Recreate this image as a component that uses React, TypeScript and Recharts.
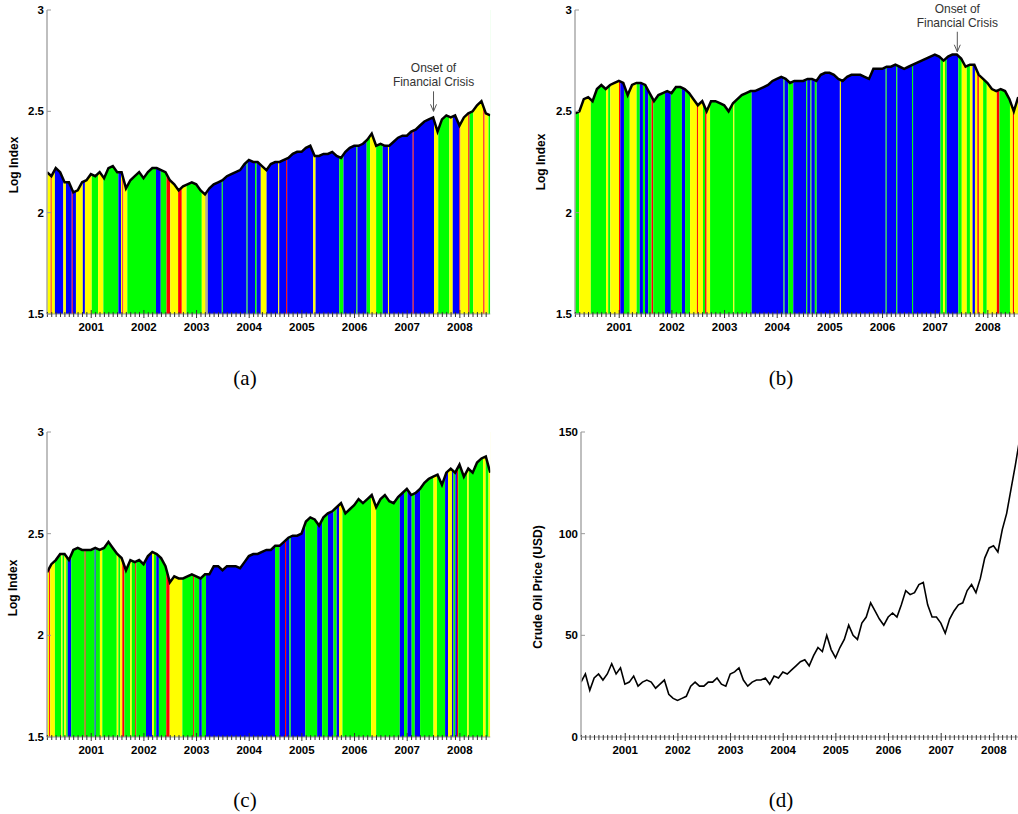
import React from "react";
import {
  ComposedChart,
  Area,
  Line,
  XAxis,
  YAxis,
  ReferenceArea,
  ReferenceDot,
} from "recharts";

// monthly samples, first one in early March 2000
const START = 2000.16;
const TICK_YEARS = [2000, 2001, 2002, 2003, 2004, 2005, 2006, 2007, 2008];
const LOG_TICKS = [1.5, 2, 2.5, 3];
const OIL_TICKS = [0, 50, 100, 150];

const logIndexA = [
  2.20, 2.18, 2.22, 2.20, 2.15, 2.15, 2.10, 2.11, 2.15, 2.16,
  2.19, 2.18, 2.20, 2.17, 2.22, 2.23, 2.20, 2.20, 2.12, 2.16,
  2.18, 2.20, 2.17, 2.20, 2.22, 2.22, 2.21, 2.20, 2.16, 2.14,
  2.11, 2.13, 2.14, 2.15, 2.14, 2.11, 2.09, 2.12, 2.14, 2.15,
  2.16, 2.18, 2.19, 2.20, 2.21, 2.24, 2.26, 2.25, 2.25, 2.23,
  2.21, 2.24, 2.25, 2.25, 2.26, 2.27, 2.29, 2.30, 2.30, 2.32,
  2.33, 2.28, 2.28, 2.29, 2.29, 2.30, 2.28, 2.27, 2.30, 2.32,
  2.33, 2.33, 2.34, 2.36, 2.39, 2.33, 2.34, 2.33, 2.33, 2.35,
  2.37, 2.38, 2.38, 2.40, 2.41, 2.43, 2.45, 2.46, 2.47, 2.40,
  2.46, 2.48, 2.47, 2.48, 2.43, 2.47, 2.49, 2.50, 2.53, 2.55,
  2.49, 2.48,
];

const logIndexB = [
  2.49, 2.50, 2.56, 2.57, 2.55, 2.61, 2.63, 2.61, 2.63, 2.64,
  2.65, 2.64, 2.58, 2.63, 2.64, 2.64, 2.63, 2.59, 2.55, 2.58,
  2.59, 2.60, 2.59, 2.62, 2.62, 2.61, 2.59, 2.56, 2.53, 2.55,
  2.50, 2.55, 2.55, 2.54, 2.53, 2.50, 2.54, 2.56, 2.58, 2.59,
  2.60, 2.60, 2.61, 2.62, 2.63, 2.65, 2.66, 2.67, 2.66, 2.64,
  2.65, 2.65, 2.65, 2.66, 2.66, 2.65, 2.68, 2.69, 2.69, 2.68,
  2.66, 2.65, 2.67, 2.68, 2.68, 2.68, 2.67, 2.66, 2.71, 2.71,
  2.71, 2.72, 2.72, 2.73, 2.72, 2.71, 2.72, 2.73, 2.74, 2.75,
  2.76, 2.77, 2.78, 2.77, 2.75, 2.77, 2.78, 2.78, 2.76, 2.72,
  2.73, 2.73, 2.68, 2.66, 2.64, 2.61, 2.60, 2.61, 2.60, 2.56,
  2.50, 2.57,
];

const logIndexC = [
  2.31, 2.35, 2.37, 2.40, 2.40, 2.37, 2.42, 2.43, 2.42, 2.42,
  2.42, 2.43, 2.42, 2.43, 2.46, 2.43, 2.40, 2.38, 2.32, 2.37,
  2.36, 2.37, 2.35, 2.39, 2.41, 2.40, 2.38, 2.34, 2.26, 2.29,
  2.28, 2.28, 2.29, 2.30, 2.29, 2.28, 2.30, 2.30, 2.34, 2.34,
  2.32, 2.34, 2.34, 2.34, 2.33, 2.36, 2.39, 2.40, 2.40, 2.41,
  2.42, 2.42, 2.44, 2.44, 2.46, 2.48, 2.49, 2.49, 2.50, 2.56,
  2.58, 2.57, 2.54, 2.58, 2.60, 2.61, 2.63, 2.65, 2.60, 2.62,
  2.64, 2.67, 2.65, 2.67, 2.69, 2.63, 2.67, 2.69, 2.66, 2.65,
  2.68, 2.70, 2.72, 2.69, 2.70, 2.72, 2.75, 2.77, 2.78, 2.79,
  2.74, 2.80, 2.82, 2.80, 2.84, 2.78, 2.82, 2.80, 2.85, 2.87,
  2.88, 2.80,
];

const oilPrice = [
  27, 31, 23, 29, 31, 28, 31, 36, 31, 34,
  26, 27, 30, 25, 27, 28, 27, 24, 26, 28,
  21, 19, 18, 19, 20, 25, 27, 25, 25, 27,
  27, 29, 26, 25, 31, 32, 34, 28, 25, 27,
  28, 28, 29, 26, 30, 29, 32, 31, 33, 35,
  37, 38, 35, 40, 44, 42, 50, 43, 39, 44,
  48, 55, 50, 48, 56, 59, 66, 62, 58, 55,
  59, 61, 59, 65, 72, 70, 71, 75, 76, 65,
  59, 59, 56, 51, 58, 62, 65, 66, 72, 75,
  71, 78, 88, 93, 94, 91, 102, 110, 122, 134,
  147, 145,
];

type Regime = "y" | "g" | "b" | "r";

// regime switches: [start, regime], each one lasts until the next start
const regimesA: [number, Regime][] = [
  [2000.16, "y"], [2000.23, "r"], [2000.25, "y"], [2000.31, "b"], [2000.47, "y"],
  [2000.52, "b"], [2000.63, "r"], [2000.65, "b"], [2000.71, "y"], [2000.84, "b"],
  [2000.88, "y"], [2001.01, "g"], [2001.13, "y"], [2001.23, "g"], [2001.515, "b"],
  [2001.565, "y"], [2001.59, "r"], [2001.61, "y"], [2001.685, "g"], [2002.23, "b"],
  [2002.32, "g"], [2002.43, "r"], [2002.5, "y"], [2002.65, "r"], [2002.72, "y"],
  [2002.81, "g"], [2003.1, "y"], [2003.175, "b"], [2003.19, "y"], [2003.21, "b"],
  [2003.48, "g"], [2003.5, "b"], [2003.95, "g"], [2003.97, "b"], [2004.11, "g"],
  [2004.14, "b"], [2004.22, "y"], [2004.33, "b"], [2004.55, "y"], [2004.57, "b"],
  [2004.7, "r"], [2004.72, "b"], [2005.215, "y"], [2005.26, "b"], [2005.71, "g"],
  [2005.79, "b"], [2006.035, "g"], [2006.055, "b"], [2006.23, "g"], [2006.295, "y"],
  [2006.41, "g"], [2006.535, "b"], [2006.635, "y"], [2006.655, "b"], [2007.105, "r"],
  [2007.125, "b"], [2007.51, "y"], [2007.59, "g"], [2007.8, "y"], [2007.865, "b"],
  [2007.99, "r"], [2008.01, "y"], [2008.16, "r"], [2008.185, "g"], [2008.255, "y"],
  [2008.445, "r"], [2008.47, "y"], [2008.545, "g"],
];

const regimesB: [number, Regime][] = [
  [2000.16, "g"], [2000.24, "y"], [2000.46, "g"], [2000.75, "y"], [2000.79, "g"],
  [2000.83, "y"], [2000.995, "r"], [2001.02, "b"], [2001.09, "g"], [2001.2, "y"],
  [2001.33, "g"], [2001.39, "b"], [2001.45, "g"], [2001.49, "b"], [2001.55, "g"],
  [2001.615, "r"], [2001.645, "g"], [2001.87, "b"], [2001.98, "g"], [2002.19, "b"],
  [2002.25, "g"], [2002.345, "y"], [2002.475, "r"], [2002.495, "y"], [2002.59, "g"],
  [2002.63, "r"], [2002.66, "y"], [2002.725, "g"], [2003.165, "y"], [2003.185, "g"],
  [2003.515, "b"], [2004.12, "g"], [2004.14, "b"], [2004.21, "g"], [2004.305, "b"],
  [2004.55, "g"], [2004.57, "b"], [2004.63, "g"], [2004.65, "b"], [2004.715, "g"],
  [2004.75, "b"], [2005.19, "y"], [2005.21, "b"], [2006.06, "g"], [2006.08, "b"],
  [2006.26, "g"], [2006.28, "b"], [2006.56, "g"], [2006.58, "b"], [2007.1, "g"],
  [2007.15, "y"], [2007.185, "g"], [2007.22, "b"], [2007.44, "g"], [2007.505, "y"],
  [2007.6, "g"], [2007.66, "y"], [2007.71, "b"], [2007.755, "y"], [2007.8, "r"],
  [2007.83, "y"], [2007.91, "g"], [2007.98, "y"], [2008.17, "r"], [2008.22, "g"],
  [2008.42, "y"], [2008.475, "r"], [2008.5, "y"],
];

const regimesC: [number, Regime][] = [
  [2000.16, "y"], [2000.2, "r"], [2000.22, "y"], [2000.31, "g"], [2000.43, "y"],
  [2000.455, "g"], [2000.49, "y"], [2000.525, "g"], [2000.555, "b"], [2000.62, "g"],
  [2000.875, "r"], [2000.895, "g"], [2001.065, "b"], [2001.085, "g"], [2001.165, "y"],
  [2001.21, "g"], [2001.485, "y"], [2001.515, "g"], [2001.55, "y"], [2001.59, "r"],
  [2001.63, "g"], [2001.74, "y"], [2001.77, "g"], [2001.835, "r"], [2001.855, "g"],
  [2002.04, "b"], [2002.155, "y"], [2002.19, "g"], [2002.235, "b"], [2002.285, "g"],
  [2002.425, "r"], [2002.49, "y"], [2002.73, "g"], [2002.935, "r"], [2002.955, "g"],
  [2003.05, "b"], [2003.1, "g"], [2003.18, "b"], [2004.49, "g"], [2004.575, "b"],
  [2004.68, "r"], [2004.7, "b"], [2004.765, "g"], [2004.79, "b"], [2005.065, "g"],
  [2005.29, "b"], [2005.385, "g"], [2005.495, "b"], [2005.6, "g"], [2005.66, "b"],
  [2005.705, "y"], [2005.77, "g"], [2006.315, "y"], [2006.41, "g"], [2006.86, "b"],
  [2006.94, "g"], [2007.005, "b"], [2007.085, "g"], [2007.145, "b"], [2007.245, "g"],
  [2007.5, "y"], [2007.565, "g"], [2007.72, "b"], [2007.775, "y"], [2007.85, "b"],
  [2007.88, "g"], [2007.915, "b"], [2007.945, "r"], [2007.97, "g"], [2008.14, "y"],
  [2008.17, "g"], [2008.44, "y"], [2008.49, "g"], [2008.545, "y"],
];

const REGIME_COLORS: Record<Regime, string> = {
  y: "#ffff00",
  g: "#00ff00",
  b: "#0000ff",
  r: "#ff0000",
};

const END = START + (logIndexA.length - 1) / 12;
const PX_PER_YEAR = 52.66;
const PLOT_W = (END - START) * PX_PER_YEAR;
const Y_AXIS_W = 30;
const X_AXIS_H = 26;
const MARGIN = { top: 10, right: 6, bottom: 0, left: 47 - Y_AXIS_W };
const CHART_W = 47 + PLOT_W + MARGIN.right;
const FONT = "'Liberation Sans', Arial, sans-serif";

const rows = logIndexA.map((_, i) => ({
  t: START + i / 12,
  a: logIndexA[i],
  b: logIndexB[i],
  c: logIndexC[i],
  d: oilPrice[i],
}));

const monthTicks = TICK_YEARS.flatMap((y) =>
  Array.from({ length: 12 }, (_, m) => y + m / 12)
).filter((t) => t >= START && t <= END);

function toBands(list: [number, Regime][]) {
  return list
    .map(([start, code], i) => ({
      x1: start,
      x2: i < list.length - 1 ? list[i + 1][0] : END,
      code,
    }))
    .filter((b) => b.x1 < END);
}

function TimeTick(props: any) {
  const { x, y, payload } = props;
  const v = payload.value as number;
  const isYear = Math.abs(v - Math.round(v)) < 1e-6;
  return (
    <g>
      <line
        x1={x}
        x2={x}
        y1={y - (isYear ? 4 : 2)}
        y2={y + (isYear ? 4 : 3)}
        stroke="#333"
        strokeWidth={1}
      />
      {isYear && (
        <text
          x={x}
          y={y + 17}
          textAnchor="middle"
          fontFamily={FONT}
          fontWeight="bold"
          fontSize={11.5}
          fill="#000"
        >
          {Math.round(v)}
        </text>
      )}
    </g>
  );
}

function ValueTick(props: any) {
  const { x, y, payload } = props;
  return (
    <g>
      <line x1={x} x2={x + 4} y1={y} y2={y} stroke="#999" strokeWidth={1} />
      <text
        x={x - 3}
        y={y + 4}
        textAnchor="end"
        fontFamily={FONT}
        fontWeight="bold"
        fontSize={11.5}
        fill="#000"
      >
        {payload.value}
      </text>
    </g>
  );
}

function OnsetMarker(props: any) {
  const { cx, cy } = props;
  return (
    <g>
      <text x={cx} y={cy - 39} textAnchor="middle" fontFamily={FONT} fontSize={12} fill="#333">
        Onset of
      </text>
      <text x={cx} y={cy - 25} textAnchor="middle" fontFamily={FONT} fontSize={12} fill="#333">
        Financial Crisis
      </text>
      <line x1={cx} x2={cx} y1={cy - 20} y2={cy} stroke="#555" strokeWidth={1} />
      <path
        d={`M${cx - 3},${cy - 7} L${cx},${cy} L${cx + 3},${cy - 7}`}
        fill="none"
        stroke="#555"
        strokeWidth={1}
      />
    </g>
  );
}

function TimeAxis() {
  return (
    <XAxis
      type="number"
      dataKey="t"
      domain={[START, END]}
      ticks={monthTicks}
      interval={0}
      tick={(p: any) => <TimeTick {...p} />}
      tickLine={false}
      tickSize={0}
      tickMargin={0}
      height={X_AXIS_H}
      axisLine={{ stroke: "#999", strokeWidth: 1 }}
      allowDataOverflow
    />
  );
}

function ValueAxis({ domain, ticks }: { domain: [number, number]; ticks: number[] }) {
  return (
    <YAxis
      type="number"
      domain={domain}
      ticks={ticks}
      interval={0}
      tick={(p: any) => <ValueTick {...p} />}
      tickLine={false}
      tickSize={0}
      tickMargin={0}
      width={Y_AXIS_W}
      axisLine={{ stroke: "#aaa", strokeWidth: 1.5 }}
    />
  );
}

interface RegimeProps {
  dataKey: string;
  regimes: [number, Regime][];
  onset?: { t: number; v: number };
  left: number;
  top: number;
  height: number;
}

function RegimePanel({ dataKey, regimes, onset, left, top, height }: RegimeProps) {
  const bands = toBands(regimes);
  return (
    <div style={{ position: "absolute", left, top }}>
      <ComposedChart width={CHART_W} height={height} data={rows} margin={MARGIN}>
        {bands.map((b, i) => (
          <ReferenceArea
            key={i}
            x1={b.x1}
            x2={b.x2}
            y1={1.5}
            y2={3}
            fill={REGIME_COLORS[b.code]}
            fillOpacity={1}
            stroke="none"
            ifOverflow="hidden"
            zIndex={50}
          />
        ))}
        {/* white cover above the index keeps the regime colours under the curve */}
        <Area
          type="linear"
          dataKey={dataKey}
          baseValue={3}
          fill="#ffffff"
          fillOpacity={1}
          stroke="none"
          isAnimationActive={false}
          zIndex={150}
        />
        <Line
          type="linear"
          dataKey={dataKey}
          stroke="#000"
          strokeWidth={2.5}
          dot={false}
          isAnimationActive={false}
          zIndex={400}
        />
        {TimeAxis()}
        {ValueAxis({ domain: [1.5, 3], ticks: LOG_TICKS })}
        {onset && (
          <ReferenceDot
            x={onset.t}
            y={onset.v}
            r={0}
            shape={(p: any) => <OnsetMarker {...p} />}
            zIndex={2000}
          />
        )}
      </ComposedChart>
    </div>
  );
}

function OilPanel({ left, top, height }: { left: number; top: number; height: number }) {
  return (
    <div style={{ position: "absolute", left, top }}>
      <ComposedChart width={CHART_W} height={height} data={rows} margin={MARGIN}>
        <Line
          type="linear"
          dataKey="d"
          stroke="#000"
          strokeWidth={1.6}
          dot={false}
          isAnimationActive={false}
        />
        {TimeAxis()}
        {ValueAxis({ domain: [0, 150], ticks: OIL_TICKS })}
      </ComposedChart>
    </div>
  );
}

function AxisTitle({ text, x, y }: { text: string; x: number; y: number }) {
  return (
    <div
      style={{
        position: "absolute",
        left: x,
        top: y,
        transform: "translate(-50%, -50%) rotate(-90deg)",
        fontFamily: FONT,
        fontWeight: "bold",
        fontSize: 12,
        whiteSpace: "nowrap",
        color: "#000",
      }}
    >
      {text}
    </div>
  );
}

function Caption({ text, x, y }: { text: string; x: number; y: number }) {
  return (
    <div
      style={{
        position: "absolute",
        left: x,
        top: y,
        transform: "translate(-50%, -50%)",
        fontFamily: "'Liberation Serif', 'Times New Roman', serif",
        fontSize: 21,
        color: "#000",
      }}
    >
      {text}
    </div>
  );
}

export default function App() {
  return (
    <div
      style={{
        position: "absolute",
        left: 0,
        top: 0,
        width: 1018,
        height: 814,
        overflow: "hidden",
        background: "#fff",
      }}
    >
      <RegimePanel dataKey="a" regimes={regimesA} onset={{ t: 2007.5, v: 2.5 }} left={0} top={0} height={340} />
      <RegimePanel dataKey="b" regimes={regimesB} onset={{ t: 2007.42, v: 2.794 }} left={528} top={0} height={340} />
      <RegimePanel dataKey="c" regimes={regimesC} left={-0.5} top={422} height={341} />
      <OilPanel left={533.5} top={422} height={341} />

      <AxisTitle text="Log Index" x={14} y={165} />
      <AxisTitle text="Log Index" x={541} y={162} />
      <AxisTitle text="Log Index" x={13} y={588} />
      <AxisTitle text="Crude Oil Price (USD)" x={538} y={587} />

      <Caption text="(a)" x={245} y={378} />
      <Caption text="(b)" x={781} y={378} />
      <Caption text="(c)" x={245} y={800} />
      <Caption text="(d)" x={781} y={800} />
    </div>
  );
}
